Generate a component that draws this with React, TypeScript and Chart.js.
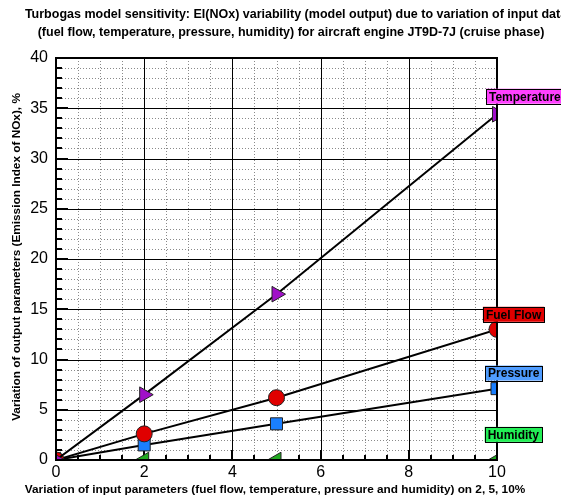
import React, { useEffect, useRef } from "react";
import { Chart, registerables } from "chart.js";

Chart.register(...registerables);

const xValues = [0, 2, 5, 10];
const temperature = [0, 6.5, 16.5, 34.4];
const fuelFlow = [0, 2.6, 6.2, 13.0];
const pressure = [0, 1.5, 3.6, 7.1];
const humidity = [0, 0, 0, 0];

const seriesNames = ["Temperature", "Fuel Flow", "Pressure", "Humidity"];
const labelBoxColors = ["#ff40ff", "#e00000", "#4f9cff", "#22ee55"];
const labelAnchorX = [9.75, 9.68, 9.73, 9.72];
const labelAnchorY = [36.2, 14.5, 8.65, 2.55];

const titleLines = [
  "Turbogas model sensitivity: EI(NOx) variability (model output) due to variation of input data",
  "(fuel flow, temperature, pressure, humidity) for aircraft engine JT9D-7J (cruise phase)",
];
const xTitle = "Variation of input parameters (fuel flow, temperature, pressure and humidity) on 2, 5, 10%";
const yTitle = "Variation of output parameters (Emission Index of NOx), %";

const FONT = "Arial, 'Liberation Sans', sans-serif";

const toPts = (ys: number[]) => xValues.map((x, i) => ({ x, y: ys[i] }));

const gridPlugin = {
  id: "customGrid",
  beforeDatasetsDraw(chart: any) {
    const { ctx, chartArea: a, scales } = chart;
    const xs = scales.x;
    const ys = scales.y;
    ctx.save();
    ctx.strokeStyle = "#8a8a8a";
    ctx.lineWidth = 1;
    ctx.setLineDash([1, 2]);
    for (let v = 0.5; v < 10; v += 0.5) {
      if (v % 2 === 0) continue;
      const p = Math.round(xs.getPixelForValue(v)) + 0.5;
      ctx.beginPath();
      ctx.moveTo(p, a.top);
      ctx.lineTo(p, a.bottom);
      ctx.stroke();
    }
    for (let v = 1; v < 40; v += 1) {
      if (v % 5 === 0) continue;
      const p = Math.round(ys.getPixelForValue(v)) + 0.5;
      ctx.beginPath();
      ctx.moveTo(a.left, p);
      ctx.lineTo(a.right, p);
      ctx.stroke();
    }
    ctx.setLineDash([]);
    ctx.strokeStyle = "#000";
    ctx.lineWidth = 1;
    for (let v = 2; v < 10; v += 2) {
      const p = Math.round(xs.getPixelForValue(v)) + 0.5;
      ctx.beginPath();
      ctx.moveTo(p, a.top);
      ctx.lineTo(p, a.bottom);
      ctx.stroke();
    }
    for (let v = 5; v < 40; v += 5) {
      const p = Math.round(ys.getPixelForValue(v)) + 0.5;
      ctx.beginPath();
      ctx.moveTo(a.left, p);
      ctx.lineTo(a.right, p);
      ctx.stroke();
    }
    ctx.lineWidth = 2;
    for (let v = 0; v <= 40; v += 1) {
      const p = Math.round(ys.getPixelForValue(v));
      const len = v % 5 === 0 ? 12 : 6;
      ctx.beginPath();
      ctx.moveTo(a.left, p);
      ctx.lineTo(a.left + len, p);
      ctx.stroke();
    }
    for (let v = 0; v <= 10; v += 0.5) {
      const p = Math.round(xs.getPixelForValue(v));
      const len = v % 2 === 0 ? 10 : 5;
      ctx.beginPath();
      ctx.moveTo(p, a.bottom);
      ctx.lineTo(p, a.bottom - len);
      ctx.stroke();
    }
    ctx.restore();
  },
  afterDatasetsDraw(chart: any) {
    const { ctx, chartArea: a } = chart;
    ctx.save();
    ctx.strokeStyle = "#000";
    ctx.lineWidth = 2;
    ctx.strokeRect(a.left, a.top, a.right - a.left, a.bottom - a.top);
    ctx.restore();
  },
  afterDraw(chart: any) {
    const { ctx, chartArea: a, scales } = chart;
    ctx.save();
    ctx.fillStyle = "#000";
    ctx.font = `bold 12.5px ${FONT}`;
    ctx.textAlign = "center";
    ctx.textBaseline = "middle";
    ctx.fillText(titleLines[0], 296, 15);
    ctx.fillText(titleLines[1], 291, 33);
    ctx.font = `bold 11.8px ${FONT}`;
    ctx.fillText(xTitle, 275, 490);
    ctx.save();
    ctx.translate(17, (a.top + a.bottom) / 2 - 2);
    ctx.rotate(-Math.PI / 2);
    ctx.fillText(yTitle, 0, 0);
    ctx.restore();
    ctx.font = `bold 12px ${FONT}`;
    ctx.textAlign = "left";
    for (let i = 0; i < seriesNames.length; i++) {
      const px = scales.x.getPixelForValue(labelAnchorX[i]);
      const py = scales.y.getPixelForValue(labelAnchorY[i]);
      const w = ctx.measureText(seriesNames[i]).width + 6;
      const h = 15;
      ctx.fillStyle = labelBoxColors[i];
      ctx.fillRect(px, py - h / 2, w, h);
      ctx.strokeStyle = "#000";
      ctx.lineWidth = 1;
      ctx.strokeRect(Math.round(px) + 0.5, Math.round(py - h / 2) + 0.5, Math.round(w), h);
      ctx.fillStyle = "#000";
      ctx.fillText(seriesNames[i], px + 3, py + 1);
    }
    ctx.restore();
  },
};

export default function App() {
  const ref = useRef<HTMLCanvasElement | null>(null);
  useEffect(() => {
    if (!ref.current) return;
    const common = {
      showLine: true,
      borderColor: "#000",
      borderWidth: 2,
      pointBorderColor: "#222",
      pointBorderWidth: 1,
    };
    const chart = new Chart(ref.current, {
      type: "scatter",
      data: {
        datasets: [
          {
            ...common,
            label: seriesNames[0],
            data: toPts(temperature),
            pointStyle: "triangle",
            rotation: 90,
            pointRadius: 9,
            pointBackgroundColor: "#a010c8",
          },
          {
            ...common,
            label: seriesNames[1],
            data: toPts(fuelFlow),
            pointStyle: "circle",
            pointRadius: 8,
            pointBackgroundColor: "#e00000",
          },
          {
            ...common,
            label: seriesNames[2],
            data: toPts(pressure),
            pointStyle: "rect",
            pointRadius: 8.5,
            pointBackgroundColor: "#1a7fff",
          },
          {
            ...common,
            label: seriesNames[3],
            data: toPts(humidity),
            pointStyle: "triangle",
            rotation: -90,
            pointRadius: 9,
            pointBackgroundColor: "#22aa22",
          },
        ] as any,
      },
      options: {
        animation: false,
        responsive: false,
        maintainAspectRatio: false,
        layout: { padding: { left: 0, right: 64, top: 58, bottom: 0 } },
        plugins: { legend: { display: false }, title: { display: false }, tooltip: { enabled: false } },
        scales: {
          x: {
            type: "linear",
            min: 0,
            max: 10,
            grid: { display: false, drawTicks: false },
            border: { display: false },
            ticks: { stepSize: 2, color: "#000", font: { size: 16, family: FONT }, padding: 3 },
            afterFit: (s: any) => { s.height = 41; },
          },
          y: {
            type: "linear",
            min: 0,
            max: 40,
            grid: { display: false, drawTicks: false },
            border: { display: false },
            ticks: { stepSize: 5, color: "#000", font: { size: 16, family: FONT }, padding: 8 },
            afterFit: (s: any) => { s.width = 56; },
          },
        },
      } as any,
      plugins: [gridPlugin],
    });
    return () => chart.destroy();
  }, []);
  return (
    <div style={{ position: "absolute", left: 0, top: 0, width: 561, height: 501 }}>
      <canvas ref={ref} width={561} height={501} style={{ width: 561, height: 501, display: "block" }} />
    </div>
  );
}
